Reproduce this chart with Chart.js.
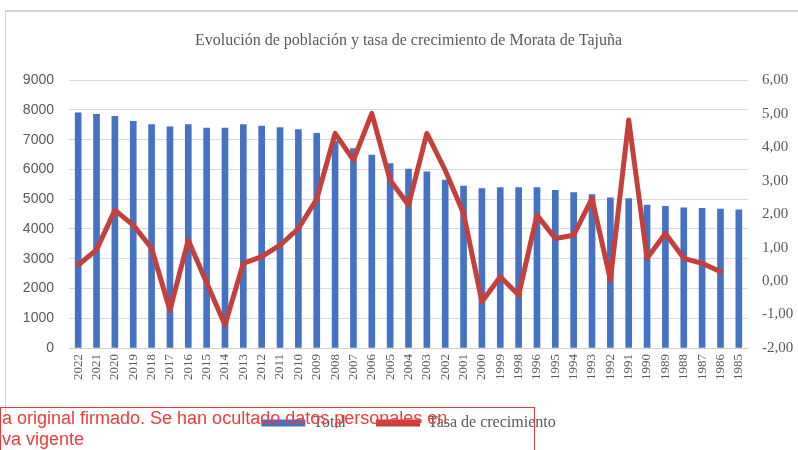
<!DOCTYPE html>
<html lang="es">
<head>
<meta charset="utf-8">
<title>Morata de Tajuña</title>
<script src="https://cdn.jsdelivr.net/npm/chart.js@4.4.1/dist/chart.umd.min.js"></script>
<style>
  body { margin: 0; background: #fff; }
  #wrap { position: relative; width: 798px; height: 450px; overflow: hidden; }
  #marco { position: absolute; left: 5px; top: 10px; width: 800px; height: 400px;
           border-top: 2px solid #d4d4d4; border-left: 1px solid #d4d4d4; pointer-events: none; }
  #sello { position: absolute; left: 0; top: 407px; width: 532px; height: 60px;
           border: 1px solid #e8393b; color: #ee3b3b; font: 18px "Liberation Sans", Arial, sans-serif;
           line-height: 21px; padding-left: 1px; pointer-events: none; }
</style>
</head>
<body>
<div id="wrap">
  <canvas id="mycanvas" width="798" height="450"></canvas>
  <div id="marco"></div>
  <div id="sello">a original firmado. Se han ocultado datos personales en<br>va vigente</div>
</div>
<script>
var anios = ["2022","2021","2020","2019","2018","2017","2016","2015","2014","2013","2012","2011","2010",
  "2009","2008","2007","2006","2005","2004","2003","2002","2001","2000","1999","1998","1996","1995",
  "1994","1993","1992","1991","1990","1989","1988","1987","1986","1985"];

var total = [7900, 7850, 7785, 7620, 7505, 7430, 7505, 7395, 7395, 7505, 7460, 7405, 7340,
  7215, 6950, 6700, 6480, 6200, 6010, 5920, 5640, 5440, 5360, 5390, 5390, 5390, 5300,
  5225, 5160, 5045, 5020, 4800, 4765, 4710, 4690, 4665, 4645];

var tasa = [0.48, 0.93, 2.12, 1.67, 0.98, -0.87, 1.22, -0.05, -1.31, 0.53, 0.73, 1.07, 1.57,
  2.45, 4.41, 3.61, 5.01, 3.01, 2.27, 4.41, 3.31, 2.02, -0.62, 0.13, -0.42, 1.97, 1.27,
  1.37, 2.47, 0.03, 4.81, 0.68, 1.42, 0.68, 0.53, 0.28, null];

var gris = "#595959";
var serif = "'Liberation Serif', 'Times New Roman', serif";
var sans = "'Liberation Sans', Arial, sans-serif";

var ctx = document.getElementById("mycanvas");
var chart = new Chart(ctx, {
  data: {
    labels: anios,
    datasets: [{
      type: "bar",
      label: "Total",
      data: total,
      backgroundColor: "#4472C4",
      barThickness: 6,
      yAxisID: "y",
      order: 1
    }, {
      type: "line",
      label: "Tasa de crecimiento",
      data: tasa,
      borderColor: "#C5403A",
      backgroundColor: "#C5403A",
      borderWidth: 5,
      pointRadius: 0,
      borderJoinStyle: "round",
      borderCapStyle: "round",
      tension: 0,
      yAxisID: "y1",
      order: 0
    }]
  },
  options: {
    responsive: false,
    animation: false,
    layout: { padding: { left: 0, right: 0, top: 0, bottom: 9 } },
    plugins: {
      title: {
        display: true,
        fullSize: false,
        text: "Evolución de población y tasa de crecimiento de Morata de Tajuña",
        color: gris,
        font: { family: serif, size: 16, weight: "normal" },
        padding: { top: 31, bottom: 30 }
      },
      legend: {
        position: "bottom",
        fullSize: false,
        labels: {
          color: gris,
          font: { family: serif, size: 16 },
          boxWidth: 44,
          boxHeight: 7,
          padding: 30,
          sort: function(a, b) { return a.datasetIndex - b.datasetIndex; },
          generateLabels: function(chart) {
            return Chart.defaults.plugins.legend.labels.generateLabels(chart).map(function(item) {
              item.lineWidth = 0;
              return item;
            });
          }
        }
      },
      tooltip: { enabled: false }
    },
    scales: {
      x: {
        grid: { display: false, drawTicks: false },
        border: { color: "#d0d0d0" },
        ticks: {
          autoSkip: false, maxRotation: 90, minRotation: 90,
          padding: 6, color: gris,
          font: { family: serif, size: 13 }
        },
        afterFit: function(scale) { scale.height = 37; }
      },
      y: {
        position: "left",
        min: 0, max: 9000,
        ticks: {
          stepSize: 1000, padding: 15, color: gris,
          font: { family: sans, size: 14 },
          callback: function(v) { return String(v); }
        },
        grid: { color: "#d9d9d9", drawTicks: false },
        border: { display: false },
        afterFit: function(scale) { scale.width = 69; }
      },
      y1: {
        position: "right",
        min: -2, max: 6,
        ticks: {
          stepSize: 1, padding: 14, color: gris,
          font: { family: serif, size: 15 },
          callback: function(v) { return v.toFixed(2).replace(".", ","); }
        },
        grid: { display: false, drawTicks: false },
        border: { display: false },
        afterFit: function(scale) { scale.width = 50; }
      }
    }
  }
});
</script>
</body>
</html>
